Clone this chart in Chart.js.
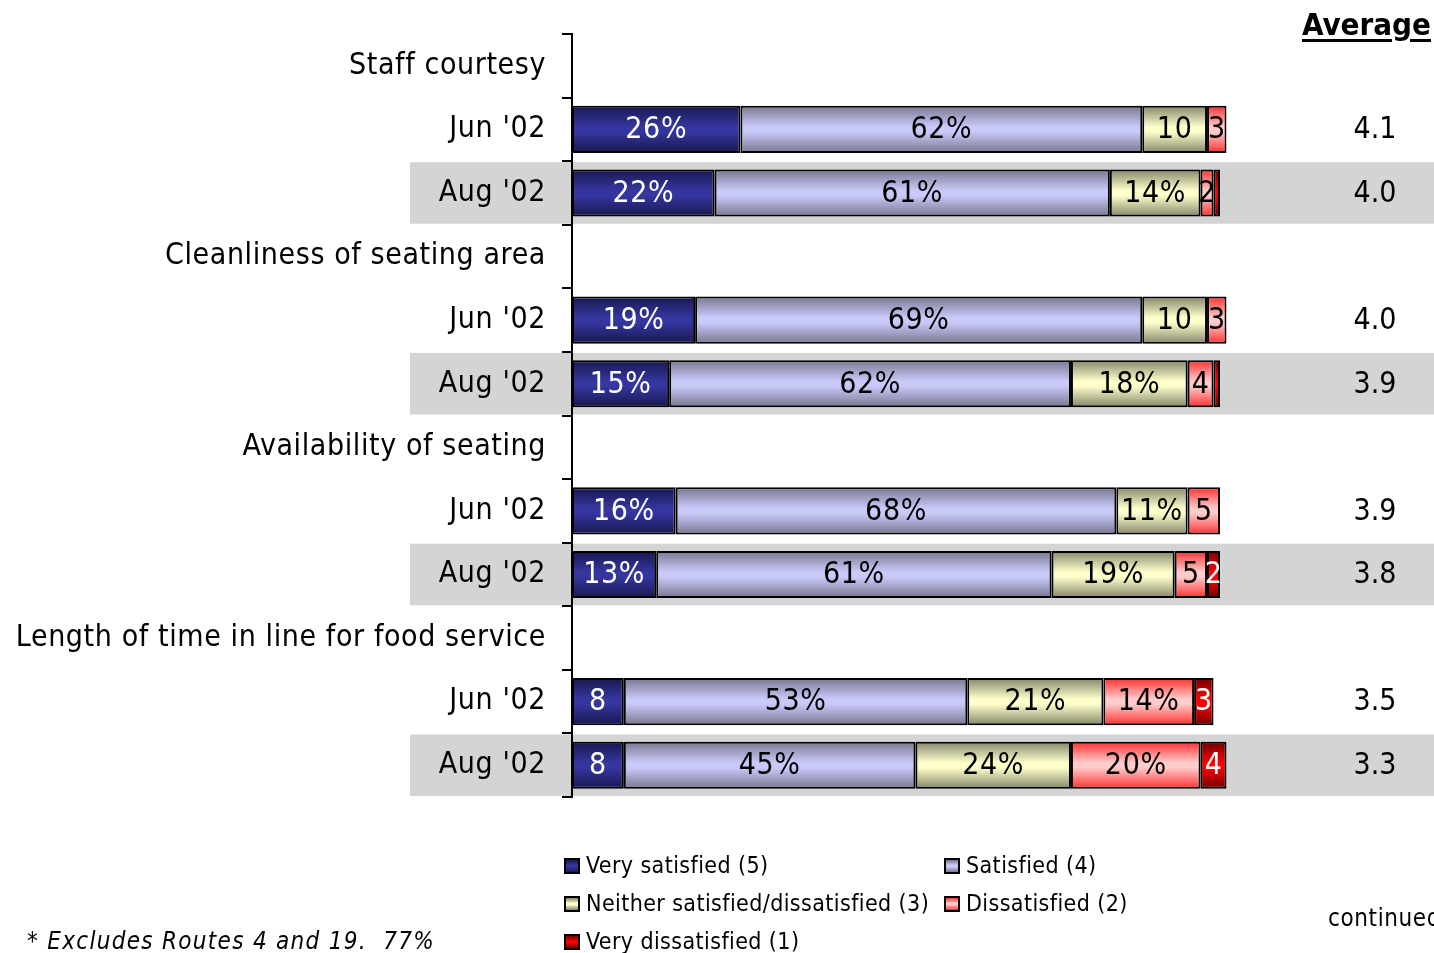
<!DOCTYPE html>
<html>
<head>
<meta charset="utf-8">
<script src="https://cdn.jsdelivr.net/npm/chart.js@4/dist/chart.umd.min.js"></script>
<style>
  html, body { margin: 0; padding: 0; background: #fff; overflow: hidden; }
  body { width: 1434px; height: 953px; position: relative; font-family: "DejaVu Sans Condensed", "Liberation Sans", sans-serif; color: #000; }
  #wrap { position: absolute; left: 0; top: 0; width: 1434px; height: 953px; }
  .txt { position: absolute; white-space: pre; line-height: 30px; }
  #avgHead { right: 3px; top: 9px; font-size: 31px; font-weight: bold; text-decoration: underline; text-decoration-thickness: 3px; text-underline-offset: 4px; }
  #legend .item { position: absolute; font-size: 23px; line-height: 30px; white-space: pre; letter-spacing: 0.4px; }
  #legend .sw { position: absolute; left: 0; top: 8px; width: 12px; height: 12px; border: 2px solid #000; }
  #legend .lab { position: absolute; left: 22px; top: 0; }
  #note { left: 27px; top: 926px; font-size: 24px; font-style: italic; letter-spacing: 1.3px; }
  #cont { left: 1328px; top: 903px; font-size: 24px; letter-spacing: 0.6px; }
</style>
</head>
<body>
<div id="wrap"><canvas id="chart"></canvas></div>
<div class="txt" id="avgHead">Average</div>
<div id="legend"></div>
<div class="txt" id="note">* Excludes Routes 4 and 19.  77%</div>
<div class="txt" id="cont">continued</div>
<script>
const FONT = '"DejaVu Sans Condensed", "Liberation Sans", sans-serif';

const categories = [
  'Staff courtesy', "Jun '02", "Aug '02",
  'Cleanliness of seating area', "Jun '02", "Aug '02",
  'Availability of seating', "Jun '02", "Aug '02",
  'Length of time in line for food service', "Jun '02", "Aug '02"
];
const verySatisfied    = [null, 26, 22, null, 19, 15, null, 16, 13, null, 8, 8];
const satisfied        = [null, 62, 61, null, 69, 62, null, 68, 61, null, 53, 45];
const neither          = [null, 10, 14, null, 10, 18, null, 11, 19, null, 21, 24];
const dissatisfied     = [null, 3, 2, null, 3, 4, null, 5, 5, null, 14, 20];
const veryDissatisfied = [null, 0, 1, null, 0, 1, null, 0, 2, null, 3, 4];
const averages = [null, '4.1', '4.0', null, '4.0', '3.9', null, '3.9', '3.8', null, '3.5', '3.3'];

const seriesNames = ['Very satisfied (5)', 'Satisfied (4)', 'Neither satisfied/dissatisfied (3)', 'Dissatisfied (2)', 'Very dissatisfied (1)'];
const seriesData = [verySatisfied, satisfied, neither, dissatisfied, veryDissatisfied];
// edge / middle colours of the shaded bars
const edgeColors = ['#18184f', '#77778f', '#85856a', '#ff3030', '#700000'];
const midColors  = ['#3636a0', '#cacafa', '#ffffcc', '#ffcccc', '#ff0000'];
const textColors = ['#fff', '#000', '#000', '#000', '#fff'];

const BAR_PCT = 0.74;

function barHalf(chart) {
  const a = chart.chartArea;
  return (a.bottom - a.top) / categories.length * BAR_PCT / 2;
}

function shade(k) {
  return function (ctx) {
    const chart = ctx.chart;
    if (!chart.chartArea || !chart.scales.y) return midColors[k];
    const y = chart.scales.y.getPixelForValue(ctx.dataIndex);
    const h = barHalf(chart);
    const g = chart.ctx.createLinearGradient(0, y - h, 0, y + h);
    g.addColorStop(0, edgeColors[k]);
    g.addColorStop(0.45, midColors[k]);
    g.addColorStop(0.55, midColors[k]);
    g.addColorStop(1, edgeColors[k]);
    return g;
  };
}

function labelFor(v) {
  if (v == null || v < 2) return '';
  return v > 10 ? v + '%' : String(v);
}

// gray bands behind the Aug rows, plus a little letter spacing for the tick text
const bands = {
  id: 'bands',
  beforeDraw(chart) {
    const c = chart.ctx, y = chart.scales.y;
    const step = (chart.chartArea.bottom - chart.chartArea.top) / categories.length;
    c.save();
    c.fillStyle = '#d4d4d4';
    categories.forEach((cat, i) => {
      if (cat.indexOf('Aug') !== 0) return;
      const yc = y.getPixelForValue(i);
      c.fillRect(410, yc - step / 2 + 1, chart.width - 410, step - 2);
    });
    c.restore();
    c.letterSpacing = '0.6px';
  },
  afterDraw(chart) {
    chart.ctx.letterSpacing = '0px';
  }
};

const segmentLabels = {
  id: 'segmentLabels',
  afterDatasetsDraw(chart) {
    const c = chart.ctx;
    c.save();
    c.font = '30px ' + FONT;
    c.textAlign = 'center';
    c.textBaseline = 'middle';
    chart.data.datasets.forEach((ds, di) => {
      chart.getDatasetMeta(di).data.forEach((bar, i) => {
        const txt = labelFor(ds.data[i]);
        if (!txt) return;
        c.fillStyle = textColors[di];
        c.fillText(txt, (bar.x + bar.base) / 2, bar.y + 1);
      });
    });
    c.restore();
  }
};

const averageColumn = {
  id: 'averageColumn',
  afterDraw(chart) {
    const c = chart.ctx, y = chart.scales.y;
    c.save();
    c.font = '30px ' + FONT;
    c.fillStyle = '#000';
    c.textAlign = 'center';
    c.textBaseline = 'middle';
    averages.forEach((a, i) => {
      if (a) c.fillText(a, 1375, y.getPixelForValue(i) + 1);
    });
    c.restore();
  }
};

const chart = new Chart(document.getElementById('chart').getContext('2d'), {
  type: 'bar',
  data: {
    labels: categories,
    datasets: seriesData.map((d, k) => ({
      label: seriesNames[k],
      data: d,
      backgroundColor: shade(k),
      borderColor: '#000',
      borderWidth: 2,
      borderSkipped: false,
      barPercentage: BAR_PCT,
      categoryPercentage: 1,
      clip: false
    }))
  },
  options: {
    indexAxis: 'y',
    responsive: true,
    maintainAspectRatio: false,
    animation: false,
    layout: { padding: { left: 0, right: 214, top: 34, bottom: 156 } },
    plugins: { legend: { display: false }, tooltip: { enabled: false } },
    scales: {
      x: { stacked: true, min: 0, max: 100, display: false },
      y: {
        stacked: true,
        grid: { drawOnChartArea: false, tickLength: 10, color: '#000', lineWidth: 2, offset: true },
        border: { color: '#000', width: 2 },
        ticks: { color: '#000', font: { family: FONT, size: 30 }, padding: 16, autoSkip: false },
        afterFit(scale) { scale.width = 572; }
      }
    }
  },
  plugins: [bands, segmentLabels, averageColumn]
});

// legend laid out in two columns like the original
const legendPos = [[564, 850], [944, 850], [564, 888], [944, 888], [564, 926]];
const legend = document.getElementById('legend');
seriesNames.forEach((name, k) => {
  const item = document.createElement('div');
  item.className = 'item';
  item.style.left = legendPos[k][0] + 'px';
  item.style.top = legendPos[k][1] + 'px';
  const sw = document.createElement('span');
  sw.className = 'sw';
  sw.style.background = 'linear-gradient(' + edgeColors[k] + ',' + midColors[k] + ' 45%,' + midColors[k] + ' 55%,' + edgeColors[k] + ')';
  const lab = document.createElement('span');
  lab.className = 'lab';
  lab.textContent = name;
  item.appendChild(sw);
  item.appendChild(lab);
  legend.appendChild(item);
});
</script>
</body>
</html>
